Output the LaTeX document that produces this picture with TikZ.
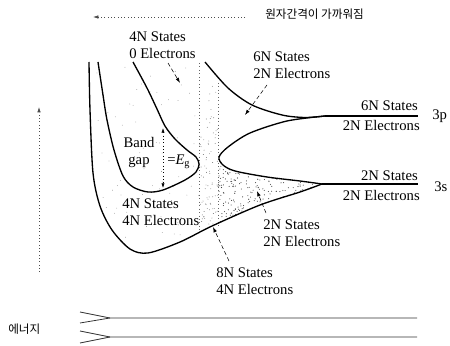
\documentclass[tikz,border=0pt]{standalone}
\usepackage{fontspec}
\setmainfont{Liberation Serif}
\newfontfamily\krfont{Noto Sans CJK KR}
\usetikzlibrary{arrows.meta}
\begin{document}
\begin{tikzpicture}[x=0.75pt,y=-0.75pt,
  band/.style={line width=1pt, black},
  lab/.style={inner sep=0pt, font=\fontsize{11}{12.75}\selectfont, align=left},
  kr/.style={inner sep=0pt, font=\krfont\fontsize{8.7}{10}\selectfont},
  ptr/.style={densely dashed, line width=0.4pt, -{Latex[length=4pt,width=2.6pt]}},
  guide/.style={dotted, line width=0.6pt, black!60},
  axisarrow/.style={dotted, line width=0.5pt, black!70, -{Latex[length=4pt,width=2.6pt]}},
  lvl/.style={line width=0.6pt, black!80}
  ]
\useasboundingbox[fill=white] (0,0) rectangle (450,346);
\pgfmathsetseed{4711}

% ---- stipple: heavy (2N band)
\begin{scope}
  \clip (218,150) rectangle (330,240);
  \clip plot[smooth] coordinates {(219,157) (223,165) (235,171) (267,177) (300,181) (322,184)}
     -- plot[smooth] coordinates {(322,184) (300,192) (260,205) (212,226)} -- (212,150) -- cycle;
  \foreach \i in {1,...,450} \fill[black!75] ({218+104*rnd},{155+75*rnd}) circle (0.4pt);
\end{scope}
% ---- stipple: medium strip and light areas
\begin{scope}
  \clip plot[smooth] coordinates {(89,62) (90,110) (93,173) (100,206) (112,230) (130,249) (148,253) (180,242) (212,226) (260,205) (300,192) (322,184)} -- (322,60) -- (89,60) -- cycle;
  \begin{scope}
    \clip (199,63) rectangle (218,240);
    \foreach \i in {1,...,90} \fill[black!55] ({199+19*rnd},{63+172*sqrt(rnd)}) circle (0.33pt);
  \end{scope}
  \begin{scope}
    \clip (92,63) rectangle (199,250);
    \foreach \i in {1,...,70} \fill[black!45] ({95+104*rnd},{65+180*rnd}) circle (0.3pt);
  \end{scope}
\end{scope}

% ---- guide lines
\draw[guide] (199,63) -- (199,232);
\draw[guide] (218,83) -- (218,226);

% ---- band curves
\draw[band] plot[smooth] coordinates {(89,62) (90,110) (93,173) (100,206) (112,230) (130,249) (148,253) (180,242) (212,226) (260,205) (300,192) (322,184)};
\draw[band] plot[smooth] coordinates {(98,62) (103,95) (107,120) (114,150) (123,176) (133,187) (148,192) (163,190) (185,180) (196,172) (199,164) (196,157) (187,150) (175,139) (165,126) (157,109) (147,88) (133,62)};
\draw[band] plot[smooth] coordinates {(205,62) (228,88) (252,105) (282,115) (305,117.5) (325,116)};
\draw[band] plot[smooth] coordinates {(325,116) (287,121) (250,133) (228,147) (219,157) (223,165) (235,171) (267,177) (300,181) (322,184)};
\draw[band] (325,116) -- (418,116);
\draw[band] (322,184) -- (418,184);

% ---- labels
\node[lab, anchor=west] (cb) at (129,45.5) {4N States\\0 Electrons};
\node[lab, anchor=west] (p6) at (253,65) {6N States\\2N Electrons};
\node[lab, anchor=east] (p6s) at (418,106) {6N States};
\node[lab, anchor=east] (p6e) at (420,125) {2N Electrons};
\node[lab, anchor=west] (l3p) at (432,116) {3p};
\node[lab, anchor=east] (s2s) at (418,176) {2N States};
\node[lab, anchor=east] (s2e) at (420,195) {2N Electrons};
\node[lab, anchor=west] (l3s) at (434,187) {3s};
\node[lab, anchor=base] (bg1) at (139,147) {Band};
\node[lab, anchor=base] (bg2) at (139,164) {gap};
\node[lab, anchor=base west] (eg) at (167,164) {=\textit{E}\textsubscript{g}};
\node[lab, anchor=west] (vb) at (122,212) {4N States\\4N Electrons};
\node[lab, anchor=west] (s2m) at (263,233) {2N States\\2N Electrons};
\node[lab, anchor=west] (n8) at (216,281) {8N States\\4N Electrons};
\node[kr, anchor=west] (ttl) at (265,14) {원자간격이 가까워짐};
\node[kr, anchor=west] (en) at (8,329) {에너지};

% ---- pointers
\coordinate (cbA) at (168,63);  \coordinate (cbB) at (180,83);
\draw[ptr] (cbA) -- (cbB);
\coordinate (p6A) at (267,85);  \coordinate (p6B) at (245,115);
\draw[ptr] (p6A) -- (p6B);
\coordinate (s2A) at (266,213); \coordinate (s2B) at (257,191);
\draw[ptr] (s2A) -- (s2B);
\coordinate (n8A) at (229,261); \coordinate (n8B) at (213,227);
\draw[ptr] (n8A) -- (n8B);
\coordinate (egT) at (163,128); \coordinate (egB) at (163,188);
\draw[dotted, line width=0.5pt, {Latex[length=3.5pt,width=2.4pt]}-{Latex[length=3.5pt,width=2.4pt]}] (egT) -- (egB);

% ---- axes arrows
\coordinate (tS) at (245,17); \coordinate (tE) at (93,17);
\draw[axisarrow] (tS) -- (tE);
\coordinate (vS) at (39,272); \coordinate (vE) at (39,107);
\draw[axisarrow] (vS) -- (vE);

% ---- atomic levels at bottom
\coordinate (j1) at (110,318); \coordinate (j2) at (110,337);
\draw[lvl] (80,312) -- (j1) -- (417,318);
\draw[lvl] (80,323) -- (j1);
\draw[lvl] (80,331) -- (j2) -- (417,337);
\draw[lvl] (80,343) -- (j2);
\end{tikzpicture}
\end{document}
